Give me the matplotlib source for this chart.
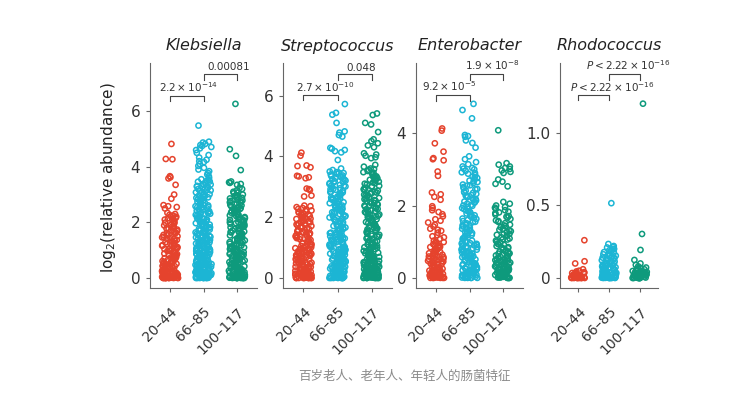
import numpy as np
import matplotlib
matplotlib.use("Agg")
import matplotlib.pyplot as plt
import matplotlib.transforms as mtrans

# age groups and colours
groups = ["20\u201344", "66\u201385", "100\u2013117"]
colors = ["#E5432D", "#1CB5D4", "#0E9A7C"]

# Klebsiella, log2 relative abundance
kleb_young = [4.82, 4.28, 4.27, 3.66, 3.62, 3.58, 3.35, 3.0, 2.85, 2.62, 2.58, 2.55, 2.5,
              2.34, 2.3, 2.27, 2.22, 2.2, 2.16, 2.13, 2.1, 2.06, 2.03, 1.99, 1.96, 1.92, 1.89, 1.85, 1.81,
              1.78, 1.74, 1.71, 1.67, 1.63, 1.6, 1.57, 1.53, 1.5, 1.46, 1.43, 1.4, 1.37, 1.33, 1.3, 1.27,
              1.24, 1.21, 1.18, 1.15, 1.12, 1.09, 1.06, 1.03, 1.0, 0.97, 0.95, 0.92,
              0.88, 0.85, 0.83, 0.8, 0.78, 0.75, 0.73, 0.71, 0.68, 0.66, 0.64, 0.61, 0.59, 0.57, 0.55,
              0.53, 0.51, 0.49, 0.47, 0.45, 0.44, 0.42, 0.4, 0.38, 0.37, 0.35, 0.33, 0.32, 0.3, 0.29,
              0.27, 0.26, 0.24, 0.23, 0.21, 0.2, 0.19, 0.17, 0.16, 0.15, 0.14, 0.13, 0.12, 0.11, 0.1,
              0.09, 0.08, 0.07, 0.06, 0.06, 0.05, 0.04, 0.04, 0.03, 0.03, 0.02, 0.02, 0.02, 0.01, 0.01,
              0.01, 0.01, 0.0, 0.0, 0.0, 0.0, 0.0, 0.0, 0.0, 0.0,
              2.24, 2.15, 2.08, 1.98, 1.9, 1.83, 1.76, 1.69, 1.62, 1.55, 1.48, 1.41, 1.35, 1.28, 1.22, 1.16,
              1.1, 1.04, 0.98, 0.9, 0.86, 0.81, 0.74, 0.69, 0.62, 0.56, 0.5, 0.43, 0.36, 0.28, 0.22, 0.18,
              0.12, 0.08, 0.05, 0.03, 0.01, 0.0]
kleb_old = [5.48, 4.9, 4.87, 4.82, 4.78, 4.75, 4.71, 4.66, 4.6, 4.5, 4.42, 4.33, 4.25, 4.2, 4.17, 4.1,
            4.03, 3.96, 3.9, 3.84, 3.78, 3.72, 3.66, 3.6, 3.55,
            3.52, 3.49, 3.47, 3.43, 3.4, 3.36, 3.35, 3.31, 3.27, 3.25, 3.2, 3.18, 3.15, 3.1, 3.08, 3.05,
            3.01, 2.98, 2.96, 2.92, 2.88, 2.86, 2.83, 2.79, 2.76, 2.74, 2.7, 2.67, 2.63, 2.61, 2.58, 2.54,
            2.52, 2.48, 2.45, 2.43, 2.4, 2.36, 2.33, 2.31, 2.27, 2.24, 2.22, 2.18, 2.15, 2.12, 2.1, 2.06,
            2.03, 2.0, 1.97, 1.94, 1.92, 1.88, 1.86, 1.82, 1.8, 1.77, 1.74, 1.71, 1.68, 1.66, 1.62, 1.6,
            1.57, 1.54, 1.51, 1.48, 1.46, 1.43, 1.4, 1.37, 1.35, 1.32, 1.29, 1.26, 1.24, 1.21, 1.18, 1.16,
            1.13, 1.1, 1.08, 1.05, 1.02, 1.0, 0.97, 0.94, 0.92, 0.89, 0.87, 0.84, 0.82, 0.79, 0.77, 0.74,
            0.72, 0.7, 0.67, 0.65, 0.63, 0.61,
            0.59, 0.57, 0.56, 0.54, 0.52, 0.51, 0.49, 0.48, 0.46, 0.45, 0.43, 0.42, 0.4, 0.39, 0.37, 0.36,
            0.35, 0.33, 0.32, 0.31, 0.29, 0.28, 0.27, 0.26, 0.24, 0.23, 0.22, 0.21, 0.2, 0.19, 0.18, 0.17,
            0.16, 0.15, 0.14, 0.13, 0.12, 0.11, 0.1, 0.09, 0.09, 0.08, 0.07, 0.06, 0.06, 0.05, 0.04, 0.04,
            0.03, 0.03, 0.02, 0.02, 0.02, 0.01, 0.01, 0.01, 0.0, 0.0, 0.0, 0.0, 0.0, 0.0,
            3.46, 3.38, 3.29, 3.22, 3.13, 3.03, 2.94, 2.9, 2.81, 2.72, 2.65, 2.56, 2.5, 2.42, 2.35, 2.29,
            2.2, 2.14, 2.08, 2.01, 1.95, 1.9, 1.84, 1.79, 1.73, 1.69, 1.64, 1.58, 1.55, 1.5, 1.45, 1.41,
            1.36, 1.33, 1.28, 1.25, 1.2, 1.17, 1.12, 1.09, 1.04, 1.01, 0.96, 0.93, 0.9, 0.86, 0.83, 0.8,
            0.76, 0.73, 0.69, 0.66, 0.62, 0.58, 0.55, 0.5, 0.47, 0.41, 0.38, 0.34, 0.3, 0.25, 0.2, 0.15,
            0.1, 0.05, 0.02, 0.0]
kleb_cent = [6.26, 4.63, 4.39, 3.88, 3.47, 3.44, 3.42, 3.38, 3.35, 3.24, 3.15, 3.1, 3.05, 3.0, 2.97, 2.93,
             2.9, 2.86, 2.82, 2.79, 2.75, 2.72, 2.68, 2.65, 2.61, 2.58, 2.55, 2.51, 2.48, 2.45, 2.41, 2.38,
             2.35, 2.31, 2.28, 2.25, 2.22, 2.19, 2.15, 2.12, 2.09, 2.06, 2.03, 2.0, 1.97, 1.94, 1.91, 1.88,
             1.85, 1.82, 1.79, 1.76, 1.73, 1.7, 1.67, 1.64, 1.61, 1.58, 1.55, 1.52, 1.49, 1.46, 1.43, 1.4,
             1.37, 1.34, 1.31, 1.28, 1.25, 1.22, 1.19, 1.16, 1.13, 1.1, 1.07, 1.04, 1.01, 0.98, 0.95, 0.92,
             0.89, 0.86, 0.83, 0.8,
             0.78, 0.76, 0.74, 0.72, 0.7, 0.68, 0.66, 0.64, 0.62, 0.6, 0.58, 0.56, 0.54, 0.52, 0.5, 0.49,
             0.47, 0.45, 0.44, 0.42, 0.4, 0.39, 0.37, 0.36, 0.34, 0.33, 0.31, 0.3, 0.29, 0.27, 0.26, 0.25,
             0.23, 0.22, 0.21, 0.2, 0.19, 0.18, 0.17, 0.16, 0.15, 0.14, 0.13, 0.12, 0.11, 0.1, 0.09, 0.08,
             0.07, 0.06, 0.05, 0.05, 0.04, 0.03, 0.03, 0.02, 0.02, 0.01, 0.01, 0.01, 0.0, 0.0, 0.0, 0.0,
             0.0, 0.0,
             3.2, 3.07, 2.95, 2.88, 2.77, 2.7, 2.63, 2.53, 2.46, 2.4, 2.33, 2.26, 2.2, 2.14, 2.07, 2.01,
             1.95, 1.89, 1.83, 1.77, 1.71, 1.65, 1.59, 1.53, 1.47, 1.41, 1.35, 1.29, 1.23, 1.17, 1.11, 1.05,
             0.99, 0.93, 0.87, 0.81, 0.75, 0.69, 0.63, 0.57, 0.51, 0.46, 0.41, 0.35, 0.28, 0.24, 0.19, 0.14,
             0.09, 0.06, 0.03, 0.01, 0.0, 0.0]

# Streptococcus
strep_young = [4.12, 4.02, 3.7, 3.68, 3.64, 3.36, 3.34, 3.31, 3.28, 2.94, 2.92, 2.89, 2.71, 2.68, 2.38, 2.36,
               2.33, 2.3, 2.27, 2.25,
               2.2, 2.17, 2.13, 2.1, 2.07, 2.04, 2.0, 1.97, 1.94, 1.91, 1.88, 1.85, 1.82, 1.79, 1.76, 1.73,
               1.7, 1.67, 1.64, 1.61, 1.58, 1.55, 1.52, 1.49, 1.46, 1.43, 1.4, 1.37, 1.34, 1.31, 1.28, 1.25,
               1.22, 1.19, 1.16, 1.13, 1.1, 1.07, 1.04,
               1.01, 0.99, 0.97, 0.95, 0.93, 0.91, 0.89, 0.87, 0.85, 0.83, 0.81, 0.79, 0.77, 0.75, 0.73,
               0.71, 0.69, 0.67, 0.65, 0.63, 0.61, 0.59, 0.57, 0.55, 0.53, 0.51, 0.5, 0.48, 0.46, 0.44,
               0.43, 0.41, 0.39, 0.38, 0.36, 0.35, 0.33, 0.32, 0.3, 0.29, 0.27, 0.26, 0.25, 0.23, 0.22,
               0.21, 0.2, 0.18, 0.17, 0.16, 0.15, 0.14, 0.13, 0.12, 0.11, 0.1, 0.09, 0.08, 0.07, 0.06,
               0.06, 0.05, 0.04, 0.04, 0.03, 0.03, 0.02, 0.02, 0.01, 0.01, 0.01, 0.0, 0.0, 0.0, 0.0, 0.0,
               0.0, 0.0,
               2.22, 2.15, 2.08, 2.02, 1.95, 1.89, 1.83, 1.77, 1.71, 1.65, 1.59, 1.53, 1.47, 1.41, 1.35, 1.29,
               1.23, 1.17, 1.11, 1.05, 0.98, 0.92, 0.86, 0.8, 0.74, 0.68, 0.62, 0.56, 0.49, 0.42, 0.37, 0.31,
               0.24, 0.19, 0.14, 0.08, 0.05, 0.02, 0.0, 0.0]
strep_old = [5.72, 5.43, 5.37, 5.1, 4.82, 4.78, 4.7, 4.65, 4.28, 4.25, 4.21, 4.17, 4.13, 3.88, 3.6, 3.55,
             3.5, 3.48, 3.45, 3.42, 3.4, 3.37, 3.34, 3.31, 3.29, 3.26, 3.23, 3.2, 3.18, 3.15, 3.12, 3.09,
             3.06, 3.04, 3.01, 2.98, 2.95, 2.93, 2.9, 2.87, 2.84, 2.82, 2.79, 2.76, 2.73, 2.71, 2.68, 2.65,
             2.62, 2.6, 2.57, 2.54, 2.51, 2.49, 2.46, 2.43, 2.4, 2.38, 2.35, 2.32, 2.29, 2.27, 2.24, 2.21,
             2.18, 2.16, 2.13, 2.1, 2.07, 2.05, 2.02, 1.99, 1.96, 1.94, 1.91, 1.88, 1.85, 1.83, 1.8, 1.77,
             1.74, 1.72, 1.69, 1.66, 1.63, 1.61, 1.58, 1.55, 1.52, 1.5, 1.47, 1.44, 1.41, 1.39,
             1.36, 1.34, 1.32, 1.3, 1.28, 1.26, 1.24, 1.22, 1.2, 1.18, 1.16, 1.14, 1.12, 1.1, 1.08, 1.06,
             1.04, 1.02, 1.0, 0.98, 0.96, 0.94, 0.92, 0.9, 0.88, 0.86, 0.84, 0.82, 0.8, 0.78, 0.76, 0.74,
             0.72, 0.7, 0.68, 0.66, 0.64, 0.62, 0.6, 0.58, 0.56, 0.54, 0.52, 0.5, 0.48, 0.47, 0.45, 0.43,
             0.42, 0.4, 0.38, 0.37, 0.35, 0.34, 0.32, 0.31, 0.29, 0.28, 0.26, 0.25, 0.24, 0.22, 0.21, 0.2,
             0.19, 0.17, 0.16, 0.15, 0.14, 0.13, 0.12, 0.11, 0.1, 0.09, 0.08, 0.07, 0.06, 0.05, 0.05, 0.04,
             0.03, 0.03, 0.02, 0.02, 0.01, 0.01, 0.01, 0.0, 0.0, 0.0, 0.0, 0.0, 0.0,
             3.46, 3.35, 3.25, 3.14, 3.03, 2.92, 2.81, 2.7, 2.59, 2.48, 2.37, 2.26, 2.15, 2.04, 1.93, 1.82,
             1.71, 1.6, 1.49, 1.43, 1.37, 1.31, 1.25, 1.19, 1.13, 1.07, 1.01, 0.95, 0.89, 0.83, 0.77, 0.71,
             0.65, 0.59, 0.53, 0.46, 0.41, 0.36, 0.3, 0.23, 0.18, 0.13, 0.08, 0.04, 0.02, 0.0, 0.0]
strep_cent = [5.41, 5.36, 5.1, 5.05, 4.8, 4.56, 4.5, 4.43, 4.36, 4.3, 4.1, 4.06, 4.02, 3.97, 3.94, 3.72, 3.66,
              3.6, 3.56, 3.52, 3.48, 3.44, 3.4, 3.36, 3.32, 3.28, 3.24, 3.21, 3.17, 3.14, 3.1, 3.07, 3.03,
              3.0, 2.97, 2.93, 2.9, 2.87, 2.83, 2.8, 2.77, 2.74, 2.71, 2.68, 2.65, 2.62, 2.59, 2.56, 2.53,
              2.5, 2.47, 2.44, 2.41, 2.38, 2.35, 2.32, 2.29, 2.26, 2.23, 2.2, 2.17, 2.14, 2.11, 2.08, 2.05,
              2.02, 1.99, 1.96, 1.93, 1.9, 1.87, 1.84, 1.81, 1.78, 1.75, 1.72, 1.69, 1.66, 1.63, 1.6, 1.57,
              1.54, 1.51, 1.48, 1.45, 1.42, 1.39, 1.36, 1.33, 1.3, 1.27, 1.24, 1.21, 1.18, 1.15, 1.12, 1.09,
              1.06,
              1.03, 1.01, 0.99, 0.97, 0.95, 0.93, 0.91, 0.89, 0.87, 0.85, 0.83, 0.81, 0.79, 0.77, 0.75,
              0.73, 0.71, 0.69, 0.67, 0.65, 0.63, 0.61, 0.59, 0.57, 0.55, 0.54, 0.52, 0.5, 0.48, 0.47,
              0.45, 0.43, 0.42, 0.4, 0.38, 0.37, 0.35, 0.34, 0.32, 0.31, 0.29, 0.28, 0.27, 0.25, 0.24,
              0.23, 0.21, 0.2, 0.19, 0.18, 0.16, 0.15, 0.14, 0.13, 0.12, 0.11, 0.1, 0.09, 0.08, 0.07,
              0.06, 0.05, 0.05, 0.04, 0.03, 0.03, 0.02, 0.02, 0.01, 0.01, 0.0, 0.0, 0.0, 0.0, 0.0, 0.0,
              3.58, 3.46, 3.34, 3.23, 3.12, 3.02, 2.91, 2.81, 2.72, 2.63, 2.54, 2.45, 2.36, 2.27, 2.18, 2.09,
              2.0, 1.91, 1.82, 1.73, 1.64, 1.55, 1.46, 1.37, 1.28, 1.19, 1.1, 1.04, 0.98, 0.92, 0.86, 0.8,
              0.74, 0.68, 0.62, 0.56, 0.49, 0.44, 0.39, 0.33, 0.26, 0.22, 0.17, 0.12, 0.07, 0.04, 0.01, 0.0]

# Enterobacter
ent_young = [4.13, 4.07, 3.72, 3.49, 3.31, 3.28, 3.25, 2.94, 2.82, 2.36, 2.31, 2.24, 2.16, 1.98, 1.93, 1.87,
             1.82, 1.76, 1.7, 1.62, 1.53, 1.47, 1.42, 1.36, 1.3, 1.25, 1.18, 1.12, 1.08, 1.03, 0.99, 0.96,
             0.93, 0.9, 0.88, 0.85, 0.83, 0.8, 0.78, 0.75, 0.73, 0.7, 0.68, 0.66, 0.63, 0.61, 0.59, 0.57,
             0.55, 0.53, 0.51, 0.49, 0.47, 0.45, 0.43, 0.41, 0.39, 0.37, 0.35, 0.34, 0.32, 0.3, 0.28, 0.27,
             0.25, 0.24, 0.22, 0.21, 0.19, 0.18, 0.16, 0.15, 0.14, 0.12, 0.11, 0.1, 0.09, 0.08, 0.07, 0.06,
             0.05, 0.04, 0.03, 0.03, 0.02, 0.01, 0.01, 0.0, 0.0, 0.0, 0.0, 0.0,
             1.58, 1.33, 1.15, 1.0, 0.92, 0.86, 0.79, 0.72, 0.64, 0.58, 0.52, 0.46, 0.4, 0.33, 0.26, 0.2,
             0.13, 0.06, 0.02, 0.0]
ent_old = [4.81, 4.64, 4.41, 3.95, 3.92, 3.9, 3.8, 3.73, 3.6, 3.36, 3.28, 3.2, 3.14,
           3.08, 3.04, 3.0, 2.96, 2.92, 2.88, 2.84, 2.8, 2.76, 2.72, 2.69, 2.65, 2.62, 2.58, 2.55, 2.51,
           2.48, 2.45, 2.41, 2.38, 2.35, 2.32, 2.29, 2.26, 2.23, 2.2, 2.17, 2.14, 2.11, 2.08, 2.05, 2.02,
           1.99, 1.96, 1.93, 1.9, 1.87, 1.84, 1.81, 1.78, 1.75, 1.72, 1.69, 1.66, 1.63, 1.6, 1.57, 1.54,
           1.51, 1.48, 1.45, 1.42, 1.39, 1.36, 1.33, 1.3, 1.27, 1.24, 1.21, 1.18, 1.15, 1.12, 1.09, 1.06,
           1.03,
           1.0, 0.98, 0.96, 0.94, 0.91, 0.89, 0.87, 0.85, 0.83, 0.81, 0.79, 0.77, 0.75, 0.73, 0.71, 0.69,
           0.67, 0.65, 0.63, 0.61, 0.59, 0.57, 0.55, 0.53, 0.51, 0.49, 0.47, 0.45, 0.43, 0.42, 0.4, 0.38,
           0.36, 0.35, 0.33, 0.31, 0.3, 0.28, 0.27, 0.25, 0.24, 0.22, 0.21, 0.19, 0.18, 0.17, 0.15, 0.14,
           0.13, 0.12, 0.1, 0.09, 0.08, 0.07, 0.06, 0.05, 0.04, 0.03, 0.03, 0.02, 0.01, 0.01, 0.0, 0.0,
           0.0, 0.0,
           3.02, 2.9, 2.78, 2.67, 2.56, 2.46, 2.36, 2.27, 2.18, 2.09, 2.0, 1.91, 1.82, 1.73, 1.64, 1.55,
           1.46, 1.37, 1.28, 1.19, 1.1, 1.01, 0.95, 0.9, 0.84, 0.78, 0.72, 0.66, 0.6, 0.54, 0.48, 0.41,
           0.34, 0.26, 0.2, 0.16, 0.11, 0.06, 0.02, 0.0]
ent_cent = [4.08, 3.17, 3.13, 3.08, 3.04, 3.01, 2.97, 2.93, 2.9, 2.72, 2.66, 2.6, 2.53,
            2.1, 2.05, 2.0, 1.96, 1.91, 1.87, 1.83, 1.79, 1.75, 1.71, 1.67, 1.63, 1.59, 1.55, 1.51, 1.47,
            1.43, 1.4, 1.36, 1.33, 1.29, 1.26, 1.22, 1.19, 1.16, 1.12, 1.09, 1.06, 1.03, 1.0, 0.97, 0.94,
            0.91, 0.88, 0.85, 0.82, 0.79, 0.76, 0.73, 0.7,
            0.68, 0.66, 0.64, 0.62, 0.6, 0.58, 0.56, 0.54, 0.52, 0.5, 0.48, 0.46, 0.44, 0.42, 0.41, 0.39,
            0.37, 0.35, 0.34, 0.32, 0.3, 0.29, 0.27, 0.26, 0.24, 0.23, 0.21, 0.2, 0.18, 0.17, 0.16, 0.14,
            0.13, 0.12, 0.11, 0.1, 0.09, 0.08, 0.07, 0.06, 0.05, 0.04, 0.03, 0.03, 0.02, 0.01, 0.01, 0.0,
            0.0, 0.0, 0.0,
            1.94, 1.81, 1.69, 1.57, 1.45, 1.31, 1.2, 1.07, 0.95, 0.83, 0.74, 0.67, 0.61, 0.55, 0.49, 0.43,
            0.36, 0.31, 0.25, 0.19, 0.15, 0.1, 0.06, 0.02, 0.0]

# Rhodococcus
rho_young = [0.26, 0.115, 0.1, 0.06, 0.05, 0.045, 0.04, 0.037, 0.034, 0.031, 0.028, 0.026, 0.023, 0.021,
             0.019, 0.017, 0.015, 0.013, 0.011, 0.01, 0.008, 0.007, 0.006, 0.005, 0.004, 0.003, 0.002,
             0.001, 0.0, 0.0, 0.0, 0.0, 0.0, 0.0,
             0.036, 0.029, 0.024, 0.018, 0.012, 0.009, 0.004, 0.0, 0.0]
rho_old = [0.515, 0.234, 0.22, 0.21, 0.2, 0.19, 0.182, 0.175, 0.168, 0.16, 0.153, 0.146, 0.14, 0.134,
           0.128, 0.122, 0.116, 0.11, 0.105, 0.1, 0.095, 0.09, 0.085, 0.08, 0.076, 0.072, 0.068, 0.064,
           0.06, 0.056, 0.052, 0.048, 0.045, 0.042, 0.038, 0.035, 0.032, 0.029, 0.026, 0.023, 0.021,
           0.018, 0.016, 0.014, 0.012, 0.01, 0.008, 0.006, 0.005, 0.004, 0.003, 0.002, 0.001, 0.0, 0.0,
           0.0, 0.0, 0.0,
           0.212, 0.196, 0.178, 0.163, 0.15, 0.137, 0.125, 0.113, 0.102, 0.092, 0.083, 0.074, 0.066,
           0.058, 0.05, 0.043, 0.036, 0.03, 0.024, 0.019, 0.013, 0.009, 0.004, 0.0]
rho_cent = [1.2, 0.303, 0.193, 0.124, 0.1, 0.09, 0.08, 0.072, 0.066, 0.06, 0.055, 0.05, 0.046, 0.042,
            0.038, 0.034, 0.031, 0.028, 0.025, 0.022, 0.019, 0.017, 0.014, 0.012, 0.01, 0.008, 0.006,
            0.004, 0.003, 0.002, 0.001, 0.0, 0.0, 0.0, 0.0, 0.0,
            0.068, 0.058, 0.048, 0.04, 0.033, 0.026, 0.02, 0.015, 0.009, 0.005, 0.0, 0.0]

taxa = ["Klebsiella", "Streptococcus", "Enterobacter", "Rhodococcus"]
panel_data = [[kleb_young, kleb_old, kleb_cent],
              [strep_young, strep_old, strep_cent],
              [ent_young, ent_old, ent_cent],
              [rho_young, rho_old, rho_cent]]
yticks = [[0, 2, 4, 6], [0, 2, 4, 6], [0, 2, 4], [0, 0.5, 1.0]]
ytick_labels = [["0", "2", "4", "6"], ["0", "2", "4", "6"], ["0", "2", "4"], ["0", "0.5", "1.0"]]

# p values (left pair, right pair)
sp = "\u2009"
p_labels = [[f"2.2{sp}\u00d7{sp}10$^{{-14}}$", "0.00081"],
            [f"2.7{sp}\u00d7{sp}10$^{{-10}}$", "0.048"],
            [f"9.2{sp}\u00d7{sp}10$^{{-5}}$", f"1.9{sp}\u00d7{sp}10$^{{-8}}$"],
            [f"$P${sp}<{sp}2.22{sp}\u00d7{sp}10$^{{-16}}$", f"$P${sp}<{sp}2.22{sp}\u00d7{sp}10$^{{-16}}$"]]

# layout (pixels at 100 dpi)
ax_left = [150, 283, 416, 560]
ax_width = [107, 109, 107, 98]
ylims = [(-0.36, 7.73), (-0.33, 7.07), (-0.28, 5.94), (-0.069, 1.48)]
bracket_y = [[(6.55, 6.37), (7.34, 7.12)],
             [(6.02, 5.86), (6.71, 6.51)],
             [(5.06, 4.9), (5.64, 5.47)],
             [(1.257, 1.223), (1.407, 1.366)]]
text_x = [[0.55, 1.76], [0.63, 1.7], [0.4, 1.69], [1.1, 1.62]]


def jitter(n, seed):
    # integer hash -> spread in [-0.5, 0.5)
    x = np.arange(n, dtype=np.uint64) + np.uint64(seed * 7919)
    m = np.uint64(0xFFFFFFFF)
    x = ((x >> np.uint64(16)) ^ x) * np.uint64(0x45D9F3B) & m
    x = ((x >> np.uint64(16)) ^ x) * np.uint64(0x45D9F3B) & m
    x = (x >> np.uint64(16)) ^ x
    return x.astype(float) / 2.0**32 - 0.5


W, H = 750, 395
fig = plt.figure(figsize=(7.5, 3.95), dpi=100)

spine_col = "#666666"
text_col = "#333333"
shift = mtrans.ScaledTranslation(7 / 100, 0, fig.dpi_scale_trans)

for k in range(4):
    ax = fig.add_axes([ax_left[k] / W, 1 - 288 / H, ax_width[k] / W, 225 / H])
    for g in range(3):
        vals = np.array(panel_data[k][g])
        off = jitter(len(vals), 3 * k + g + 1) * 0.48
        ax.scatter(g + off, vals, s=14, facecolors="none", edgecolors=colors[g],
                   linewidths=1.1, clip_on=False, zorder=3)
    ax.set_xlim(-0.6, 2.6)
    ax.set_ylim(*ylims[k])
    ax.set_xticks([0, 1, 2])
    ax.set_xticklabels(groups, rotation=45, ha="right", va="top", rotation_mode="anchor",
                       fontsize=10, color=text_col)
    for lab in ax.get_xticklabels():
        lab.set_transform(lab.get_transform() + shift)
    ax.set_yticks(yticks[k])
    ax.set_yticklabels(ytick_labels[k], fontsize=11, color=text_col)
    ax.tick_params(length=3, width=0.8, color=spine_col, pad=4)
    ax.tick_params(axis="x", pad=9)
    for s in ["top", "right"]:
        ax.spines[s].set_visible(False)
    for s in ["left", "bottom"]:
        ax.spines[s].set_color(spine_col)
        ax.spines[s].set_linewidth(0.8)
    ax.set_title(taxa[k], style="italic", fontsize=11.5, color="#222222", pad=9)

    # significance brackets
    for b in range(2):
        ytop, ylow = bracket_y[k][b]
        ax.plot([b, b, b + 1, b + 1], [ylow, ytop, ytop, ylow], color="#444444",
                lw=0.8, clip_on=False)
        ax.annotate(p_labels[k][b], xy=(text_x[k][b], ytop), xytext=(0, 1),
                    textcoords="offset points", ha="center", va="bottom",
                    fontsize=7.5, color=text_col, annotation_clip=False)

fig.text(109 / W, 1 - 178 / H, "log$_2$(relative abundance)", rotation=90,
         ha="center", va="center", fontsize=11, color="#222222")

fig.text(404 / W, 1 - 376 / H, "百岁老人、老年人、年轻人的肠菌特征", ha="center", va="center",
         fontsize=9, color="#8a8a8a", family=["Noto Sans CJK SC", "DejaVu Sans"])

fig.savefig("out.png", dpi=100)
